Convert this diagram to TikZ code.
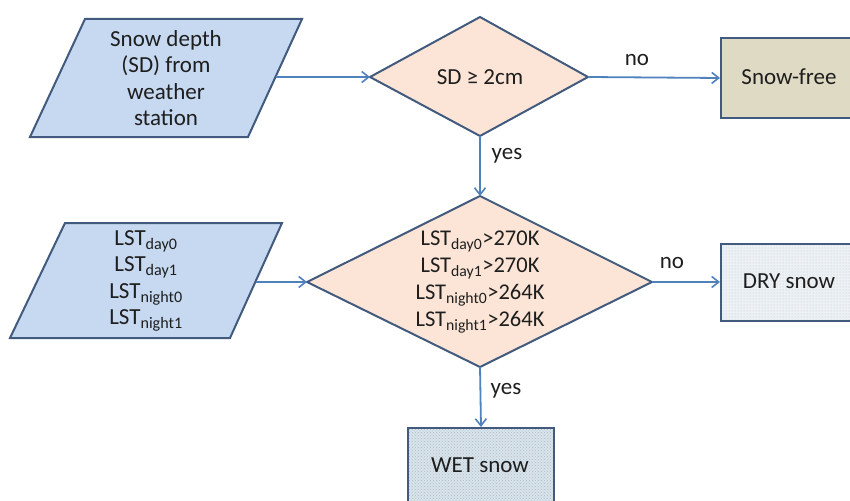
\documentclass[tikz,border=0pt]{standalone}
\usepackage{fontspec}
\setmainfont{Carlito}
\usetikzlibrary{arrows.meta,patterns}
\definecolor{inblue}{RGB}{198,217,240}
\definecolor{edgeblue}{RGB}{65,90,125}
\definecolor{arrowblue}{RGB}{79,129,189}
\definecolor{peach}{RGB}{252,229,214}
\definecolor{khaki}{RGB}{222,218,196}
\definecolor{drybg}{RGB}{236,241,246}
\definecolor{wetbg}{RGB}{214,228,238}
\definecolor{txt}{RGB}{30,30,30}
\begin{document}
\begin{tikzpicture}[x=1pt,y=-1pt,
  shapeedge/.style={draw=edgeblue,line width=2pt,line join=miter},
  inputshape/.style={shapeedge,fill=inblue},
  decisionshape/.style={shapeedge,fill=peach},
  label/.style={text=txt,font=\fontsize{23}{26.5}\selectfont,align=center,inner sep=0pt},
  smalllabel/.style={text=txt,font=\fontsize{23}{26}\selectfont,inner sep=0pt},
  outbox/.style={shapeedge,inner sep=0pt,text=txt},
  arrowline/.style={draw=arrowblue,line width=1.8pt,-{Straight Barb[length=7pt,width=11pt,line width=1.6pt]}}
]
\useasboundingbox (0,0) rectangle (850,500);
\clip (0,0) rectangle (850,500);
% input 1
\draw[inputshape] (85,19) -- (302,19) -- (248,137) -- (30,137) -- cycle;
\node[label] (in1) at (166,78) {Snow depth\\(SD) from\\weather\\station};
\coordinate (in1r) at (276,77);
% decision 1
\draw[decisionshape] (370,77) -- (480,17) -- (588,77) -- (480,136) -- cycle;
\node[label] (d1) at (480,77) {SD ≥ 2cm};
\coordinate (d1l) at (370,77);
\coordinate (d1r) at (588,77);
\coordinate (d1b) at (480,136);
% snow-free
\node[outbox,fill=khaki,minimum width=140pt,minimum height=80pt,anchor=north west] (sf) at (720,37) {};
\node[label] (sft) at (789,77) {Snow-free};
% input 2
\draw[inputshape] (65,223) -- (282,223) -- (230,338) -- (10,338) -- cycle;
\node[label] (in2) at (146,281) {LST\textsubscript{day0}\\LST\textsubscript{day1}\\LST\textsubscript{night0}\\LST\textsubscript{night1}};
\coordinate (in2r) at (256,282);
% decision 2
\draw[decisionshape] (307,282) -- (480,196) -- (652,282) -- (480,367) -- cycle;
\node[label,font=\fontsize{22.5}{27}\selectfont] (d2) at (480,282) {LST\textsubscript{day0}>270K\\LST\textsubscript{day1}>270K\\LST\textsubscript{night0}>264K\\LST\textsubscript{night1}>264K};
\coordinate (d2t) at (480,196);
\coordinate (d2l) at (307,282);
\coordinate (d2r) at (652,282);
\coordinate (d2b) at (480,367);
% dry snow
\node[outbox,preaction={fill=drybg},pattern=dots,pattern color=gray!45,minimum width=140pt,minimum height=77pt,anchor=north west] (dry) at (720,243) {};
\node[label] (dryt) at (789,281) {DRY snow};
% wet snow
\node[outbox,preaction={fill=wetbg},pattern=crosshatch dots,pattern color=gray!55,minimum width=146pt,minimum height=90pt,anchor=north west] (wet) at (407,427) {};
\node[label] (wett) at (480,465) {WET snow};
% connectors
\draw[arrowline] (in1r) -- (d1l);
\draw[arrowline] (d1r) -- (sf.west);
\draw[arrowline] (d1b) -- (d2t);
\draw[arrowline] (in2r) -- (d2l);
\draw[arrowline] (d2r) -- (dry.west |- d2r);
\draw[arrowline] (d2b) -- (wet.north);
% edge labels
\node[smalllabel] (no1) at (637,60) {no};
\node[smalllabel] (yes1) at (507,156) {yes};
\node[smalllabel] (no2) at (672,263) {no};
\node[smalllabel] (yes2) at (506,391) {yes};
\end{tikzpicture}
\end{document}
